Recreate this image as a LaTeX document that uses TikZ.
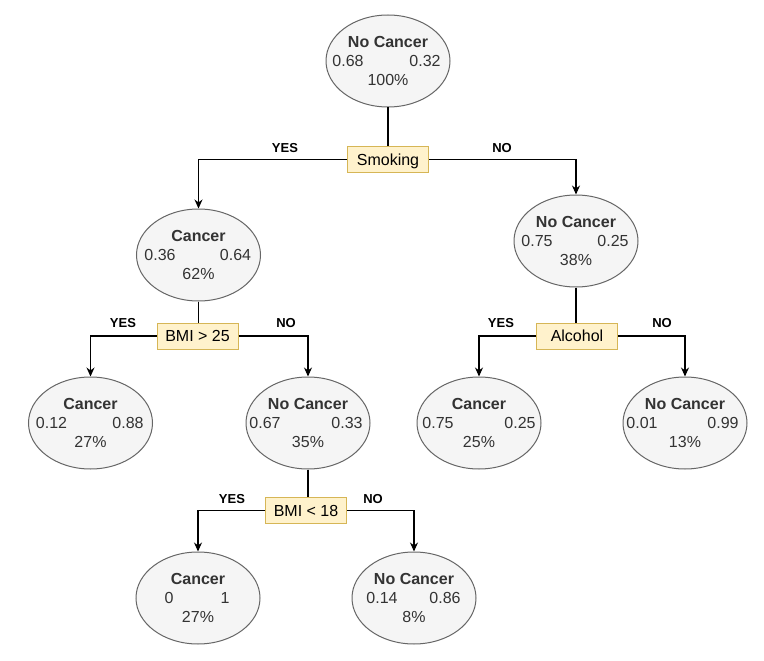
\documentclass[tikz,border=0pt]{standalone}
\usepackage{fontspec}
\setmainfont{Liberation Sans}
\usetikzlibrary{arrows.meta,shapes.geometric}
\definecolor{efill}{HTML}{F5F5F5}
\definecolor{edraw}{HTML}{666666}
\definecolor{etext}{HTML}{333333}
\definecolor{bfill}{HTML}{FFF2CC}
\definecolor{bdraw}{HTML}{D6B656}
\tikzset{
  leaf/.style={ellipse,draw=edraw,fill=efill,line width=1pt,minimum width=124pt,minimum height=92pt,inner sep=0pt},
  ttl/.style={inner sep=0pt,text height=11.5pt,text depth=0pt,text=etext,font=\fontsize{16}{19}\selectfont\bfseries},
  val/.style={inner sep=0pt,text height=11.5pt,text depth=0pt,text=etext,font=\fontsize{16}{19}\selectfont},
  cond/.style={draw=bdraw,fill=bfill,line width=1pt,minimum width=81pt,minimum height=26pt,inner sep=0pt,text height=11.5pt,text depth=0pt,font=\fontsize{16}{19}\selectfont},
  lbl/.style={inner sep=0pt,text height=9.3pt,text depth=0pt,font=\fontsize{13}{15}\selectfont\bfseries},
  conn/.style={draw=black,line width=1.2pt},
  arr/.style={conn,-{Stealth[length=9pt,width=8pt]}}
}
\newcommand\leafnode[9]{%
  \node[leaf] (#1) at (#2,#3) {};
  \node[ttl] (#1-t) at ([yshift=19pt]#1.center) {#4};
  \node[val] (#1-l) at ([xshift=#6pt]#1.center) {#5};
  \node[val] (#1-r) at ([xshift=#8pt]#1.center) {#7};
  \node[val] (#1-p) at ([yshift=-19pt]#1.center) {#9};
}
\begin{document}
\begin{tikzpicture}[x=1pt,y=-1pt]
\useasboundingbox[fill=white] (0,0) rectangle (764,661);
% leaves / ellipses
\leafnode{root}{388}{61}{No Cancer}{0.68}{-40}{0.32}{37}{100\%}
\leafnode{lc}{198.5}{255}{Cancer}{0.36}{-38.5}{0.64}{37}{62\%}
\leafnode{rn}{576}{241}{No Cancer}{0.75}{-39}{0.25}{37}{38\%}
\leafnode{a}{90.5}{423}{Cancer}{0.12}{-39}{0.88}{37.5}{27\%}
\leafnode{b}{308}{423}{No Cancer}{0.67}{-43}{0.33}{39}{35\%}
\leafnode{c}{479}{423}{Cancer}{0.75}{-41}{0.25}{41}{25\%}
\leafnode{d}{685}{423}{No Cancer}{0.01}{-43}{0.99}{38}{13\%}
\leafnode{e}{198}{598}{Cancer}{0}{-29}{1}{27}{27\%}
\leafnode{f}{414}{598}{No Cancer}{0.14}{-32}{0.86}{31}{8\%}
% conditions
\node[cond] (smk) at (388,159.5) {Smoking};
\node[cond] (bmi1) at (197.5,336) {BMI > 25};
\node[cond] (alc) at (577,336) {Alcohol};
\node[cond] (bmi2) at (306,510.5) {BMI < 18};
% connectors
\draw[conn] (root.south) -- (root.south |- smk.north);
\draw[arr] (smk.west) -| (lc.north);
\draw[arr] (smk.east) -| (rn.north);
\draw[conn] (lc.south) -- (lc.south |- bmi1.north);
\draw[arr] (bmi1.west) -| (a.north);
\draw[arr] (bmi1.east) -| (b.north);
\draw[conn] (rn.south) -- (rn.south |- alc.north);
\draw[arr] (alc.west) -| (c.north);
\draw[arr] (alc.east) -| (d.north);
\draw[conn] (b.south) -- (b.south |- bmi2.north);
\draw[arr] (bmi2.west) -| (e.north);
\draw[arr] (bmi2.east) -| (f.north);
% labels
\node[lbl] (y1) at (285,148) {YES};
\node[lbl] (n1) at (502,148) {NO};
\node[lbl] (y2) at (123,323) {YES};
\node[lbl] (n2) at (286,323) {NO};
\node[lbl] (y3) at (501,323) {YES};
\node[lbl] (n3) at (662,323) {NO};
\node[lbl] (y4) at (232,499) {YES};
\node[lbl] (n4) at (373,499) {NO};
\end{tikzpicture}
\end{document}
